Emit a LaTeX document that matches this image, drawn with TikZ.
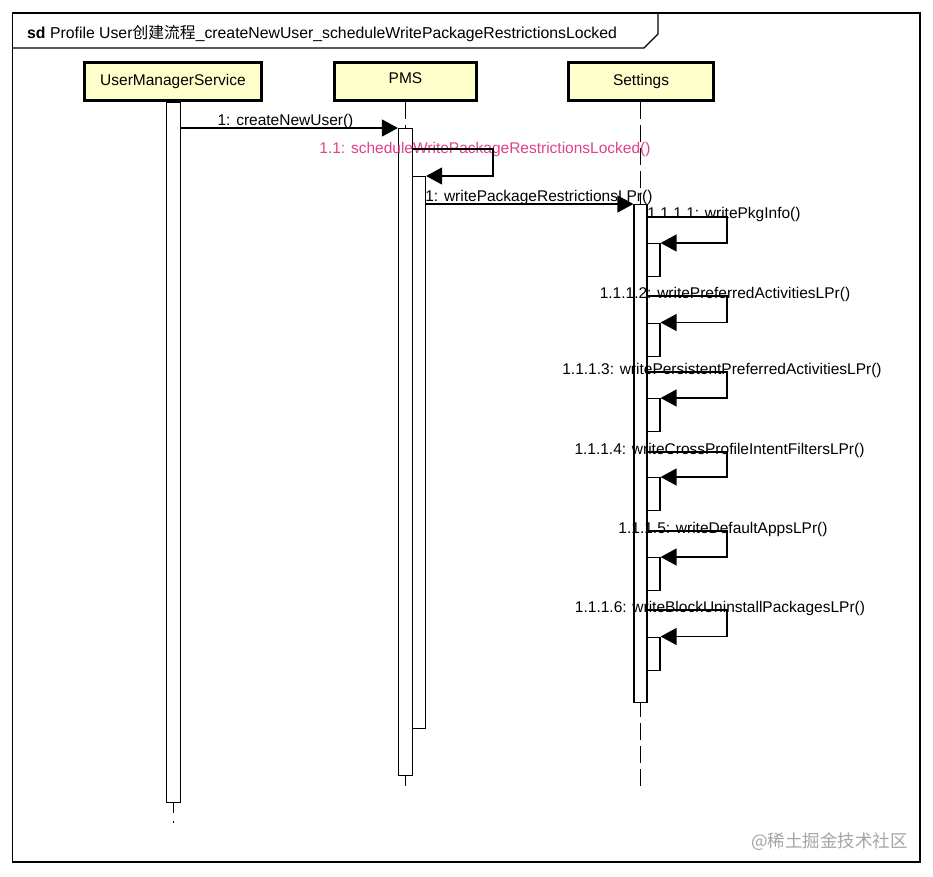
\documentclass[tikz,border=0pt]{standalone}
\usepackage{fontspec}
\setmainfont{Liberation Sans}
\newfontfamily\cjk{Noto Sans CJK SC}
\usetikzlibrary{arrows.meta}
\definecolor{boxfill}{RGB}{255,255,204}
\definecolor{pinkmsg}{RGB}{225,65,135}
\definecolor{wmgray}{RGB}{165,165,165}
\begin{document}
\begin{tikzpicture}[x=1pt,y=-1pt,
  every node/.style={font=\fontsize{15.5pt}{18pt}\selectfont, inner sep=0pt},
  lbox/.style={draw, line width=2.6pt, fill=boxfill, minimum height=38.5pt, text height=11.3pt, text depth=3.3pt},
  bar/.style={draw, line width=1.2pt, fill=white, anchor=north, minimum width=13pt},
  msg/.style={line width=1.3pt, -{Triangle[length=16pt,width=17pt]}},
  lbl/.style={anchor=base},
  life/.style={line width=1.3pt, dash pattern=on 17pt off 6pt},
  solidlife/.style={line width=1.3pt},
]
\useasboundingbox (0,0) rectangle (933,876);
\fill[white] (0,0) rectangle (933,876);

% frame and title tab
\draw[line width=1.2pt] (12.5,13) rectangle (920,862);
\draw[line width=1.2pt] (12.5,48) -- (644,48) -- (658,34) -- (658,13);
\node[anchor=base west, font=\fontsize{15.8pt}{18pt}\selectfont] (title) at (27,38) {\textbf{sd} Profile User{\cjk 创建流程}\_createNewUser\_scheduleWritePackageRestrictionsLocked};

% lifeline heads
\node[lbox, minimum width=177.4pt] (ums) at (173,81.5) {UserManagerService};
\node[lbox, minimum width=142.4pt, text depth=8pt] (pms) at (405.5,81.5) {PMS};
\node[lbox, minimum width=145.4pt] (set) at (641,81.5) {Settings};

% labels drawn below the activation bars
\node[lbl] (l1) at (285.5,125) {1: createNewUser()};
\node[lbl] (l111) at (526,201) {1.1.1: writePackageRestrictionsLPr()};

% lifelines
\coordinate (umsE1) at (173.5,813);
\coordinate (umsE2) at (173.5,821);
\coordinate (umsE3) at (173.5,823);
\coordinate (pmsEnd) at (405.5,789);
\coordinate (setEnd) at (640.5,789);
\draw[life] (pms.south) -- (pmsEnd);
\draw[life] (set.south -| setEnd) -- (setEnd);

% activation bars
\node[bar, minimum width=14pt, minimum height=700pt] (umsA) at (173.5,102) {};
\draw[solidlife] (umsA.south) -- (umsE1);
\draw[solidlife] (umsE2) -- (umsE3);
\node[bar, minimum width=14pt, minimum height=647pt] (pmsA) at (405.5,128) {};
\node[bar, minimum height=552pt] (pmsB) at (419,176) {};
\node[bar, minimum height=498pt] (setA) at (640.5,204) {};
\node[bar, minimum height=33pt] (s1) at (653.5,243) {};
\node[bar, minimum height=33pt] (s2) at (653.5,322.5) {};
\node[bar, minimum height=33pt] (s3) at (653.5,398) {};
\node[bar, minimum height=33pt] (s4) at (653.5,477) {};
\node[bar, minimum height=33pt] (s5) at (653.5,557) {};
\node[bar, minimum height=33pt] (s6) at (653.5,636.5) {};

% labels drawn over the bars
\node[lbl, text=pinkmsg] (l11) at (485,153) {1.1: scheduleWritePackageRestrictionsLocked()};
\node[lbl] (l1111) at (724,218) {1.1.1.1: writePkgInfo()};
\node[lbl] (l1112) at (725,298) {1.1.1.2: writePreferredActivitiesLPr()};
\node[lbl] (l1113) at (722,374) {1.1.1.3: writePersistentPreferredActivitiesLPr()};
\node[lbl] (l1114) at (719.5,454) {1.1.1.4: writeCrossProfileIntentFiltersLPr()};
\node[lbl] (l1115) at (723,533) {1.1.1.5: writeDefaultAppsLPr()};
\node[lbl] (l1116) at (720,612) {1.1.1.6: writeBlockUninstallPackagesLPr()};

% messages
\draw[msg] (umsA.east |- pmsA.north west) -- (pmsA.north west);
\draw[msg] ([yshift=-21pt]pmsA.north east) -- ++(80,0) |- (pmsB.north east);
\draw[msg] (pmsB.east |- setA.north west) -- (setA.north west);
\draw[msg] ([yshift=26pt]s1.north west) -- ++(80.5,0) |- (s1.north east);
\draw[msg] ([yshift=26.5pt]s2.north west) -- ++(80.5,0) |- (s2.north east);
\draw[msg] ([yshift=26pt]s3.north west) -- ++(80.5,0) |- (s3.north east);
\draw[msg] ([yshift=25pt]s4.north west) -- ++(80.5,0) |- (s4.north east);
\draw[msg] ([yshift=26pt]s5.north west) -- ++(80.5,0) |- (s5.north east);
\draw[msg] ([yshift=26.5pt]s6.north west) -- ++(80.5,0) |- (s6.north east);

% watermark
\node[anchor=base east, text=wmgray, font=\cjk\fontsize{17.5pt}{20pt}\selectfont] (wm) at (908,847) {@稀土掘金技术社区};
\end{tikzpicture}
\end{document}
